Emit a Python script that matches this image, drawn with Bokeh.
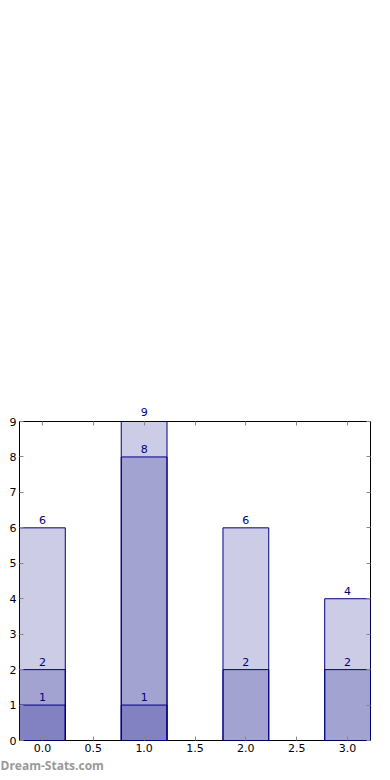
from bokeh.plotting import figure
from bokeh.models import (ColumnDataSource, FixedTicker, LinearAxis, LabelSet,
                          CustomJSTickFormatter, Range1d, Title)
from bokeh.embed import file_html
from bokeh.resources import INLINE
from bokeh.core.properties import value

# data: each bar starts at 0 and is drawn translucent, overlapping bars of the same x
bar_x = [0, 0, 0, 1, 1, 1, 2, 2, 3, 3]
bar_top = [1, 2, 6, 1, 8, 9, 2, 6, 2, 4]
x_ticks = [0.0, 0.5, 1.0, 1.5, 2.0, 2.5, 3.0]
y_ticks = [0, 1, 2, 3, 4, 5, 6, 7, 8, 9]
y_max = 9

src = ColumnDataSource(dict(x=bar_x, top=bar_top))
# labels inside the frame, and those of bars that reach the frame's top
in_x = [x for x, t in zip(bar_x, bar_top) if t < y_max]
in_t = [t for t in bar_top if t < y_max]
edge_x = [x for x, t in zip(bar_x, bar_top) if t >= y_max]
edge_t = [str(t) for t in bar_top if t >= y_max]
lab_src = ColumnDataSource(dict(x=in_x, top=in_t, label=[str(t) for t in in_t]))

p = figure(width=390, height=780, output_backend="svg", toolbar_location=None,
           x_range=Range1d(-0.225, 3.225), y_range=Range1d(0, y_max),
           min_border_left=19, min_border_right=20, min_border_top=421,
           min_border_bottom=40, x_axis_location=None, y_axis_location=None)
p.grid.visible = False
p.outline_line_color = "black"
p.outline_line_width = 1
p.background_fill_color = "white"
p.border_fill_color = "white"

p.vbar(x="x", top="top", bottom=0, width=0.45, source=src,
       fill_color="navy", fill_alpha=0.2, line_color="navy", line_width=1)

labels = LabelSet(x="x", y="top", text="label", source=lab_src, text_align="center",
                  text_baseline="alphabetic", y_offset=4, text_color="navy",
                  text_font=value("DejaVu Sans"), text_font_size=value("11px"))
p.add_layout(labels)

def mk_axis(loc, show_labels, ticks, fmt):
    ax = LinearAxis(ticker=FixedTicker(ticks=ticks))
    ax.axis_line_color = None
    ax.major_tick_in = 4
    ax.major_tick_out = 0
    ax.major_tick_line_color = "#888888"
    ax.minor_tick_line_color = None
    ax.major_label_text_font = "DejaVu Sans"
    ax.major_label_text_font_size = "11px"
    ax.major_label_text_color = "black"
    ax.major_label_standoff = 3
    if fmt:
        ax.formatter = CustomJSTickFormatter(code="return tick.toFixed(1);")
    if not show_labels:
        ax.major_label_text_alpha = 0
        ax.major_label_text_font_size = "1px"
    p.add_layout(ax, loc)
    return ax

mk_axis("below", True, x_ticks, True)
mk_axis("left", True, y_ticks, False)
top_ax = mk_axis("above", True, x_ticks, False)
top_ax.major_label_text_color = "navy"
top_ax.major_label_standoff = 6
top_ax.formatter = CustomJSTickFormatter(
    args=dict(xs=edge_x, texts=edge_t),
    code="""
for (let i = 0; i < xs.length; i++) {
  if (Math.abs(xs[i] - tick) < 1e-9) return texts[i];
}
return "";
""")
mk_axis("right", False, y_ticks, False)

wm = Title(text="Dream-Stats.com", align="left", text_font="Open Sans",
           text_font_style="bold", text_font_size="12px", text_color="#999999",
           offset=-19, standoff=0)
p.add_layout(wm, "below")

open("out.html", "w").write(file_html(p, INLINE))
